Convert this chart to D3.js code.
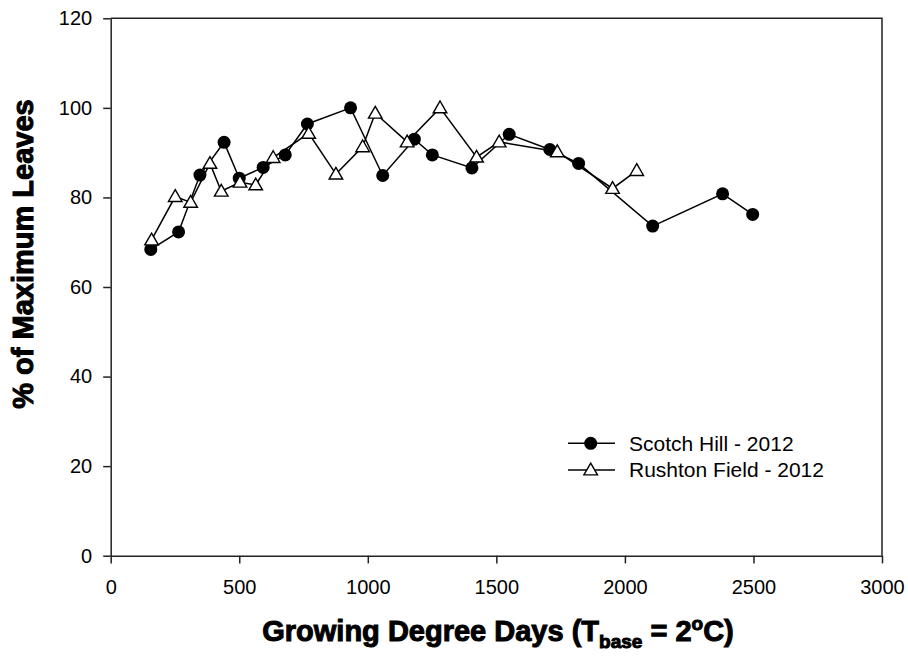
<!DOCTYPE html>
<html>
<head>
<meta charset="utf-8">
<script src="https://cdn.jsdelivr.net/npm/d3@7"></script>
<style>
  body { margin: 0; background: #fff; }
  svg { display: block; font-family: "Liberation Sans", Arial, sans-serif; }
</style>
</head>
<body>
<svg id="chart" width="908" height="656"></svg>
<script>
// ---- Data ----
const scotchGDD = [156, 264, 347, 441, 500, 593, 679, 765, 933, 1058, 1181, 1251, 1405, 1550, 1708, 1820, 2108, 2380, 2497];
const scotchPct = [68.4, 72.3, 85.0, 92.3, 84.3, 86.7, 89.5, 96.4, 100, 84.9, 93.0, 89.5, 86.6, 94.1, 90.7, 87.6, 73.6, 80.8, 76.2];
const rushtonGDD = [159, 251, 311, 386, 430, 503, 564, 632, 770, 876, 980, 1029, 1153, 1281, 1423, 1511, 1737, 1952, 2046];
const rushtonPct = [70.5, 80.2, 78.9, 87.6, 81.4, 83.4, 82.8, 88.9, 94.3, 85.2, 91.3, 98.8, 92.4, 100, 89.0, 92.4, 90.2, 82.0, 86.0];
const xTicks = [0, 500, 1000, 1500, 2000, 2500, 3000];
const yTicks = [0, 20, 40, 60, 80, 100, 120];
const seriesNames = ["Scotch Hill - 2012", "Rushton Field - 2012"];

// ---- Layout ----
const plotL = 110.7, plotR = 882, plotT = 18.3, plotB = 555.7;
const svg = d3.select("#chart");
const x = d3.scaleLinear().domain([0, 3000]).range([plotL, plotR]);
const y = d3.scaleLinear().domain([0, 120]).range([plotB, plotT]);
const axisColor = "#222";

// frame (top & right)
svg.append("path")
  .attr("d", `M${plotL},${plotT}H${plotR}V${plotB}`)
  .attr("fill", "none").attr("stroke", axisColor).attr("stroke-width", 1.5);

const xAxis = svg.append("g").attr("transform", `translate(0,${plotB})`)
  .call(d3.axisBottom(x).tickValues(xTicks).tickFormat(d3.format("d")).tickSize(7.7).tickPadding(16.5).tickSizeOuter(0));
const yAxis = svg.append("g").attr("transform", `translate(${plotL},0)`)
  .call(d3.axisLeft(y).tickValues(yTicks).tickFormat(d3.format("d")).tickSize(7.5).tickPadding(11).tickSizeOuter(0));
[xAxis, yAxis].forEach(g => {
  g.select(".domain").attr("stroke", axisColor).attr("stroke-width", 1.5);
  g.selectAll(".tick line").attr("stroke", axisColor).attr("stroke-width", 1.5);
  g.selectAll(".tick text").attr("fill", "#000").style("font-size", "20px")
    .style("font-family", '"Liberation Sans", Arial, sans-serif');
});

// ---- Series ----
const line = d3.line().x(d => x(d[0])).y(d => y(d[1]));
const scotch = scotchGDD.map((g, i) => [g, scotchPct[i]]);
const rushton = rushtonGDD.map((g, i) => [g, rushtonPct[i]]);
const tri = d3.symbol().type(d3.symbolTriangle).size(80);

svg.append("path").datum(scotch).attr("d", line)
  .attr("fill", "none").attr("stroke", "#000").attr("stroke-width", 1.5);
svg.append("g").selectAll("circle").data(scotch).join("circle")
  .attr("cx", d => x(d[0])).attr("cy", d => y(d[1])).attr("r", 6.5).attr("fill", "#000");

svg.append("path").datum(rushton).attr("d", line)
  .attr("fill", "none").attr("stroke", "#000").attr("stroke-width", 1.5);
svg.append("g").selectAll("path").data(rushton).join("path")
  .attr("d", tri)
  .attr("transform", d => `translate(${x(d[0])},${y(d[1]) + 1})`)
  .attr("fill", "#fff").attr("stroke", "#000").attr("stroke-width", 1.4);

// ---- Legend ----
const lg = svg.append("g");
const legY = [443.3, 470];
legY.forEach((ly, i) => {
  lg.append("line").attr("x1", 568).attr("x2", 615).attr("y1", ly).attr("y2", ly)
    .attr("stroke", "#000").attr("stroke-width", 1.5);
  if (i === 0) {
    lg.append("circle").attr("cx", 590.7).attr("cy", ly).attr("r", 6.5).attr("fill", "#000");
  } else {
    lg.append("path").attr("d", tri).attr("transform", `translate(590.7,${ly + 1})`)
      .attr("fill", "#fff").attr("stroke", "#000").attr("stroke-width", 1.4);
  }
  lg.append("text").attr("x", 629).attr("y", ly).attr("dy", "0.35em")
    .style("font-size", "21px").attr("fill", "#000").text(seriesNames[i]);
});

// ---- Axis titles ----
const xt = svg.append("text").attr("x", 498).attr("y", 641).attr("text-anchor", "middle")
  .style("font-size", "29px").style("font-weight", "bold")
  .attr("fill", "#000").attr("stroke", "#000").attr("stroke-width", 1);
xt.append("tspan").text("Growing Degree Days (T");
xt.append("tspan").attr("dy", 7).style("font-size", "19px").text("base");
xt.append("tspan").attr("dy", -7).text(" = 2");
xt.append("tspan").attr("dy", -11).style("font-size", "19px").text("o");
xt.append("tspan").attr("dy", 11).text("C)");

svg.append("text").attr("transform", "translate(33,254) rotate(-90)")
  .attr("text-anchor", "middle")
  .style("font-size", "29px").style("font-weight", "bold")
  .attr("fill", "#000").attr("stroke", "#000").attr("stroke-width", 1)
  .text("% of Maximum Leaves");
</script>
</body>
</html>
